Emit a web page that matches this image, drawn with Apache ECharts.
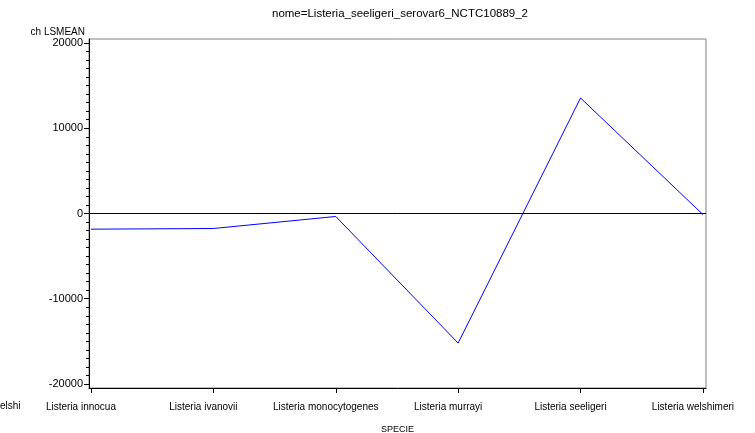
<!DOCTYPE html>
<html>
<head>
<meta charset="utf-8">
<script src="https://cdn.jsdelivr.net/npm/echarts@6/dist/echarts.min.js"></script>
<style>
html,body{margin:0;padding:0;background:#fff;}
#chart{width:755px;height:433px;}
</style>
</head>
<body>
<div id="chart"></div>
<script>
// LSMEAN per species
const species = ['Listeria innocua', 'Listeria ivanovii', 'Listeria monocytogenes', 'Listeria murrayi', 'Listeria seeligeri', 'Listeria welshimeri'];
const lsmean = [-1840, -1760, -350, -15200, 13550, -120];
const yMajorTicks = [-20000, -10000, 0, 10000, 20000];
const yMinorTicks = [];
for (let v = -20000; v <= 20000; v += 1000) yMinorTicks.push(v);
const xTicks = [0, 1, 2, 3, 4, 5];

const FONT = 'Liberation Sans, Arial, sans-serif';
const chart = echarts.init(document.getElementById('chart'), null, {renderer: 'canvas'});

const yRange = {min: -20470, max: 20470};

chart.setOption({
  animation: false,
  backgroundColor: '#fff',
  title: {
    text: 'nome=Listeria_seeligeri_serovar6_NCTC10889_2',
    left: 395, top: 3, textAlign: 'center',
    textStyle: {fontFamily: FONT, fontSize: 11.5, fontWeight: 'normal', color: '#000'}
  },
  grid: {
    left: 89, right: 49, top: 39, bottom: 45,
    outerBoundsMode: 'none', containLabel: false,
    show: true, borderColor: '#808080', borderWidth: 1
  },
  xAxis: {
    type: 'value', min: -0.016, max: 5.025,
    name: 'SPECIE', nameLocation: 'middle', nameGap: 37,
    nameTextStyle: {fontFamily: FONT, fontSize: 9, color: '#000'},
    axisLine: {show: true, onZero: false, lineStyle: {color: '#000', width: 1}},
    axisTick: {show: true, customValues: xTicks, length: 5, inside: false, lineStyle: {color: '#000'}},
    axisLabel: {
      customValues: xTicks, margin: 14,
      fontFamily: FONT, fontSize: 10, color: '#000',
      padding: [0, 20, 0, 0],
      formatter: v => species[Math.round(v)] || ''
    },
    splitLine: {show: false}
  },
  yAxis: [{
    type: 'value', ...yRange,
    name: 'ch LSMEAN', nameLocation: 'end', nameGap: 2,
    nameTextStyle: {fontFamily: FONT, fontSize: 10, color: '#000', align: 'right', padding: [0, 4, 0, 0]},
    axisLine: {show: true, onZero: false, lineStyle: {color: '#000', width: 1}},
    axisTick: {show: true, customValues: yMajorTicks, length: 5, lineStyle: {color: '#000'}},
    axisLabel: {
      customValues: yMajorTicks, margin: 6,
      fontFamily: FONT, fontSize: 11, color: '#000',
      formatter: v => String(v)
    },
    splitLine: {show: false}
  }, {
    type: 'value', position: 'left', ...yRange,
    axisLine: {show: false, onZero: false},
    axisTick: {show: true, customValues: yMinorTicks, length: 3, lineStyle: {color: '#000'}},
    axisLabel: {show: false},
    splitLine: {show: false}
  }],
  graphic: [{
    type: 'text', left: 0, top: 401,
    style: {text: 'elshi', fontFamily: FONT, fontSize: 10, fill: '#000'}
  }],
  series: [{
    type: 'line',
    data: lsmean.map((v, i) => [i, v]),
    showSymbol: false, symbol: 'none',
    lineStyle: {color: '#0000ff', width: 1},
    markLine: {
      silent: true, symbol: 'none', label: {show: false},
      lineStyle: {color: '#000', width: 1, type: 'solid'},
      data: [{yAxis: 0}]
    }
  }]
});
</script>
</body>
</html>
